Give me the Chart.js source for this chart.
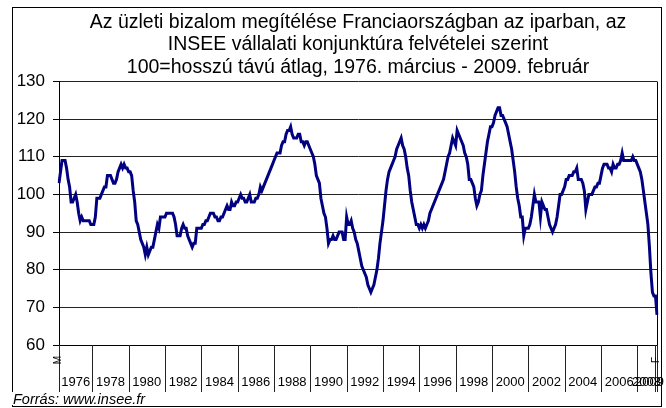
<!DOCTYPE html>
<html>
<head>
<meta charset="utf-8">
<script src="https://cdn.jsdelivr.net/npm/chart.js@4.4.0/dist/chart.umd.min.js"></script>
<style>
  html, body { margin: 0; padding: 0; background: #fff; }
  #chart { display: block; }
</style>
</head>
<body>
<canvas id="chart" width="666" height="408"></canvas>
<script>
// Monthly values, 1976 March - 2009 February (100 = long term average)
const v1976 = [103, 106, 109, 109, 109, 107, 104, 102, 98, 98];
const v1977 = [99, 100, 98, 95, 93, 94, 93, 93, 93, 93, 93, 92];
const v1978 = [92, 92, 94, 99, 99, 99, 100, 101, 102, 102, 105, 105];
const v1979 = [105, 104, 103, 103, 104, 106, 107, 108, 107, 108, 107, 107];
const v1980 = [106, 106, 105, 101, 98, 93, 92, 90, 88, 87, 86, 84];
const v1981 = [86, 84, 85, 86, 86, 88, 90, 92, 91, 94, 94, 94];
const v1982 = [94, 95, 95, 95, 95, 95, 94, 92, 89, 89, 89, 91];
const v1983 = [92, 91, 91, 89, 88, 87, 86, 87, 87, 91, 91, 91];
const v1984 = [91, 92, 92, 93, 93, 94, 95, 95, 95, 94, 94, 93];
const v1985 = [93, 94, 94, 95, 96, 97, 96, 96, 98, 97, 97, 98];
const v1986 = [98, 99, 100, 99, 99, 98, 98, 99, 100, 98, 98, 98];
const v1987 = [99, 99, 100, 102, 101, 102, 103, 104, 105, 106, 107, 108];
const v1988 = [109, 110, 111, 111, 111, 113, 114, 114, 116, 117, 117, 118];
const v1989 = [116, 115, 115, 115, 116, 116, 114, 114, 113, 114, 114, 113];
const v1990 = [112, 111, 110, 108, 105, 104, 103, 99, 97, 95, 94, 91];
const v1991 = [87, 88, 88, 89, 88, 88, 89, 90, 90, 90, 88, 88];
const v1992 = [94, 92, 92, 93, 91, 90, 88, 87, 85, 83, 81, 80];
const v1993 = [79, 78, 76, 75, 74, 75, 76, 78, 80, 83, 87, 90];
const v1994 = [93, 97, 101, 104, 106, 107, 108, 109, 110, 112, 113, 114];
const v1995 = [115, 113, 112, 110, 107, 105, 101, 98, 96, 94, 92, 92];
const v1996 = [91, 92, 91, 92, 91, 92, 93, 95, 96, 97, 98, 99];
const v1997 = [100, 101, 102, 103, 104, 106, 108, 110, 111, 113, 115, 114];
const v1998 = [113, 117, 116, 115, 114, 113, 111, 110, 108, 104, 104, 103];
const v1999 = [102, 99, 97, 98, 100, 101, 105, 108, 111, 114, 116, 118];
const v2000 = [118, 119, 121, 122, 123, 123, 121, 121, 120, 119, 118, 116];
const v2001 = [114, 112, 109, 106, 102, 99, 97, 94, 94, 89, 91, 91];
const v2002 = [91, 92, 94, 97, 100, 98, 98, 98, 94, 98, 97, 96];
const v2003 = [96, 94, 92, 91, 90, 91, 92, 94, 97, 100, 100, 101];
const v2004 = [102, 104, 104, 105, 105, 105, 106, 106, 107, 104, 104, 104];
const v2005 = [103, 101, 96, 98, 100, 100, 100, 101, 102, 102, 103, 103];
const v2006 = [105, 107, 108, 108, 108, 107, 107, 106, 108, 107, 107, 108];
const v2007 = [108, 109, 111, 109, 109, 109, 109, 109, 109, 110, 109, 109];
const v2008 = [108, 107, 106, 104, 101, 98, 95, 92, 86, 79, 74, 73];
const v2009 = [73, 68];

const series = [].concat(v1976, v1977, v1978, v1979, v1980, v1981, v1982, v1983,
  v1984, v1985, v1986, v1987, v1988, v1989, v1990, v1991, v1992, v1993, v1994,
  v1995, v1996, v1997, v1998, v1999, v2000, v2001, v2002, v2003, v2004, v2005,
  v2006, v2007, v2008, v2009);

const firstYear = 1976, firstMonth = 3;
// year groups shown under the axis
const yearGroups = ['1976', '1978', '1980', '1982', '1984', '1986', '1988', '1990', '1992',
  '1994', '1996', '1998', '2000', '2002', '2004', '2006', '2008', '2009'];
const firstMonthLetter = 'M';
const lastMonthLetter = 'F';

const titleLines = [
  'Az üzleti bizalom megítélése Franciaországban az iparban, az',
  'INSEE vállalati konjunktúra felvételei szerint',
  '100=hosszú távú átlag, 1976. március - 2009. február'
];
const sourceText = 'Forrás: www.insee.fr';

const labels = series.map((v, i) => {
  const m = firstMonth - 1 + i;
  return (firstYear + Math.floor(m / 12)) + '-' + String(m % 12 + 1).padStart(2, '0');
});

const FONT = "'Liberation Sans', Arial, sans-serif";
Chart.defaults.font.family = FONT;
Chart.defaults.color = '#000';

const frame = {
  id: 'frame',
  beforeDraw(chart) {
    const ctx = chart.ctx;
    ctx.save();
    ctx.fillStyle = '#fff';
    ctx.fillRect(0, 0, chart.width, chart.height);
    ctx.strokeStyle = '#000';
    ctx.lineWidth = 1;
    ctx.strokeRect(12.5, 7.5, 649, 399);
    ctx.restore();
  },
  afterDraw(chart) {
    const ctx = chart.ctx, xs = chart.scales.x, area = chart.chartArea;
    ctx.save();
    ctx.strokeStyle = '#000';
    ctx.lineWidth = 1;
    // right edge of the plot
    ctx.beginPath();
    ctx.moveTo(Math.round(area.right) + 0.5, area.top);
    ctx.lineTo(Math.round(area.right) + 0.5, area.bottom);
    ctx.stroke();

    // group boundaries: start, January of each group year, end
    const bounds = yearGroups.map((y, k) => k === 0 ? 0 : labels.indexOf(y + '-01'));
    bounds.push(labels.length - 1);
    ctx.strokeStyle = '#222';
    bounds.forEach(b => {
      const x = Math.round(xs.getPixelForValue(b)) + 0.5;
      ctx.beginPath();
      ctx.moveTo(x, area.bottom);
      ctx.lineTo(x, area.bottom + 47);
      ctx.stroke();
    });

    // year labels
    ctx.font = '13px ' + FONT;
    ctx.fillStyle = '#000';
    ctx.textBaseline = 'middle';
    ctx.textAlign = 'center';
    yearGroups.forEach((y, k) => {
      const x0 = xs.getPixelForValue(bounds[k]);
      const x1 = xs.getPixelForValue(bounds[k + 1]);
      let cx = (x0 + x1) / 2;
      const w = ctx.measureText(y).width;
      if (cx + w / 2 > 664) cx = 664 - w / 2;
      ctx.fillText(y, cx, area.bottom + 37);
    });

    // first and last month letters, rotated
    ctx.font = '10px ' + FONT;
    [[0, firstMonthLetter], [labels.length - 1, lastMonthLetter]].forEach(([i, t]) => {
      ctx.save();
      ctx.translate(xs.getPixelForValue(i) - 1, area.bottom + 15);
      ctx.rotate(-Math.PI / 2);
      ctx.fillText(t, 0, 0);
      ctx.restore();
    });

    // source note
    ctx.fillStyle = '#fff';
    ctx.fillRect(11, 392, 150, 13);
    ctx.fillStyle = '#000';
    ctx.font = 'italic 14.5px ' + FONT;
    ctx.textAlign = 'left';
    ctx.textBaseline = 'alphabetic';
    ctx.fillText(sourceText, 13, 404);
    ctx.restore();
  }
};

new Chart(document.getElementById('chart'), {
  type: 'line',
  data: {
    labels: labels,
    datasets: [{
      data: series,
      borderColor: '#000080',
      borderWidth: 3,
      pointRadius: 0,
      tension: 0,
      fill: false
    }]
  },
  options: {
    responsive: false,
    animation: false,
    devicePixelRatio: 1,
    layout: { padding: { top: 8, left: 12, right: 9, bottom: 0 } },
    plugins: {
      legend: { display: false },
      tooltip: { enabled: false },
      title: {
        display: true,
        text: titleLines,
        color: '#000',
        fullSize: false,
        font: { size: 19.5, weight: 'normal', lineHeight: 1.154 },
        padding: { top: 3, bottom: 3 }
      }
    },
    scales: {
      x: {
        type: 'category',
        offset: false,
        ticks: { display: false },
        grid: { display: false },
        border: { display: true, color: '#000', width: 1 },
        afterFit(s) { s.height = 63; }
      },
      y: {
        min: 60,
        max: 130,
        ticks: { stepSize: 10, padding: 8, font: { size: 17 }, color: '#000' },
        grid: { color: '#222', lineWidth: 1, tickLength: 6, tickColor: '#000' },
        border: { display: true, color: '#000', width: 1 },
        afterFit(s) { s.width = 47; }
      }
    }
  },
  plugins: [frame]
});
</script>
</body>
</html>
